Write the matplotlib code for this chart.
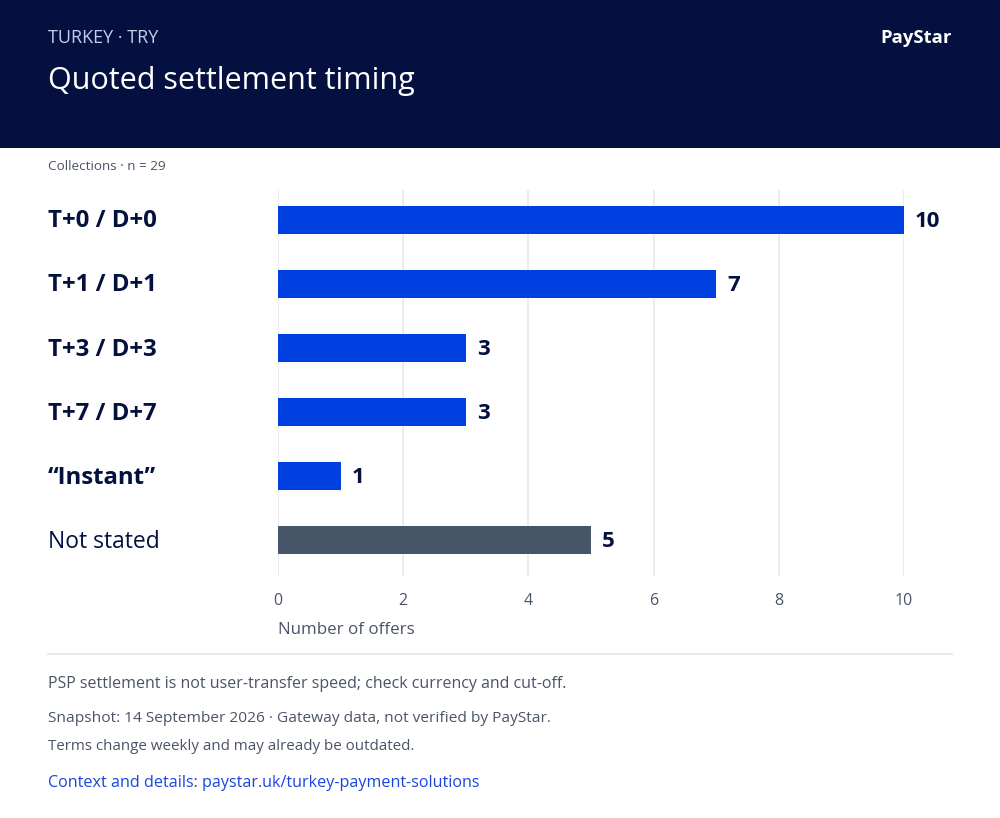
import matplotlib.pyplot as plt

plt.rcParams['font.family'] = ['Open Sans', 'DejaVu Sans']

# data
categories = ['T+0 / D+0', 'T+1 / D+1', 'T+3 / D+3', 'T+7 / D+7', '\u201cInstant\u201d', 'Not stated']
offers = [10, 7, 3, 3, 1, 5]
stated = [True, True, True, True, True, False]
x_ticks = [0, 2, 4, 6, 8, 10]

navy = '#03113f'
blue = '#0040e0'
slate = '#475569'
grey_text = '#4a5468'

W, H = 1000, 818
fig = plt.figure(figsize=(W / 100, H / 100), dpi=100)
fig.patch.set_facecolor('white')

def fx(px):
    return px / W

def fy(py):
    return 1 - py / H

# header band
fig.patches.append(plt.Rectangle((0, fy(148)), 1, 148 / H, transform=fig.transFigure,
                                 facecolor='#041040', edgecolor='none', zorder=0))
fig.text(fx(48), fy(38), 'TURKEY \u00b7 TRY', color='#c5cdec', fontsize=13, va='center', ha='left')
fig.text(fx(48), fy(81), 'Quoted settlement timing', color='white', fontsize=22, va='center', ha='left')
fig.text(fx(952), fy(38), 'PayStar', color='white', fontsize=13.3, fontweight='bold', va='center', ha='right')

fig.text(fx(48), fy(166), 'Collections \u00b7 n = 29', color=grey_text, fontsize=9.7, va='center', ha='left')

# chart
ax = fig.add_axes([fx(278), fy(576), fx(904 - 278), (576 - 190) / H])
colors = [blue if s else slate for s in stated]
ypos = list(range(len(categories)))
ax.barh(ypos, offers, height=0.44, color=colors, zorder=2)
ax.set_xlim(0, 10)
ax.set_ylim(5.56, -0.47)
ax.set_xticks(x_ticks)
ax.set_xticklabels([str(t) for t in x_ticks])
ax.tick_params(axis='x', length=0, labelsize=11.5, labelcolor=grey_text, pad=12)
ax.set_yticks([])
ax.grid(axis='x', color='#e6e9f0', linewidth=1.2, zorder=0)
for s in ax.spines.values():
    s.set_visible(False)

for y, v in zip(ypos, offers):
    ax.annotate(str(v), (v, y), xytext=(8, -1), textcoords='offset points', va='center', ha='left',
                fontsize=16, fontweight='bold', color=navy, annotation_clip=False)

for y, c, s in zip(ypos, categories, stated):
    ax.annotate(c, (0, y), xycoords=('figure fraction', 'data'), xytext=(48 * 0.72, -1),
                textcoords='offset points', va='center', ha='left', fontsize=17.3 if s else 16.5,
                fontweight='bold' if s else 'normal', color=navy, annotation_clip=False)

fig.text(fx(278), fy(630), 'Number of offers', color=grey_text, fontsize=12.2, va='center', ha='left')

# separator
fig.add_artist(plt.Line2D([fx(48), fx(952)], [fy(654), fy(654)], transform=fig.transFigure,
                          color='#e6e9f0', linewidth=1.5))

# footer
fig.text(fx(48), fy(684), 'PSP settlement is not user-transfer speed; check currency and cut-off.',
         color=grey_text, fontsize=11.5, va='center', ha='left')
fig.text(fx(48), fy(719), 'Snapshot: 14 September 2026 \u00b7 Gateway data, not verified by PayStar.',
         color=grey_text, fontsize=11.15, va='center', ha='left')
fig.text(fx(48), fy(747), 'Terms change weekly and may already be outdated.',
         color=grey_text, fontsize=10.9, va='center', ha='left')
fig.text(fx(48), fy(783), 'Context and details: paystar.uk/turkey-payment-solutions',
         color='#1a45e0', fontsize=11.6, va='center', ha='left')

fig.savefig('out.png', dpi=100)
